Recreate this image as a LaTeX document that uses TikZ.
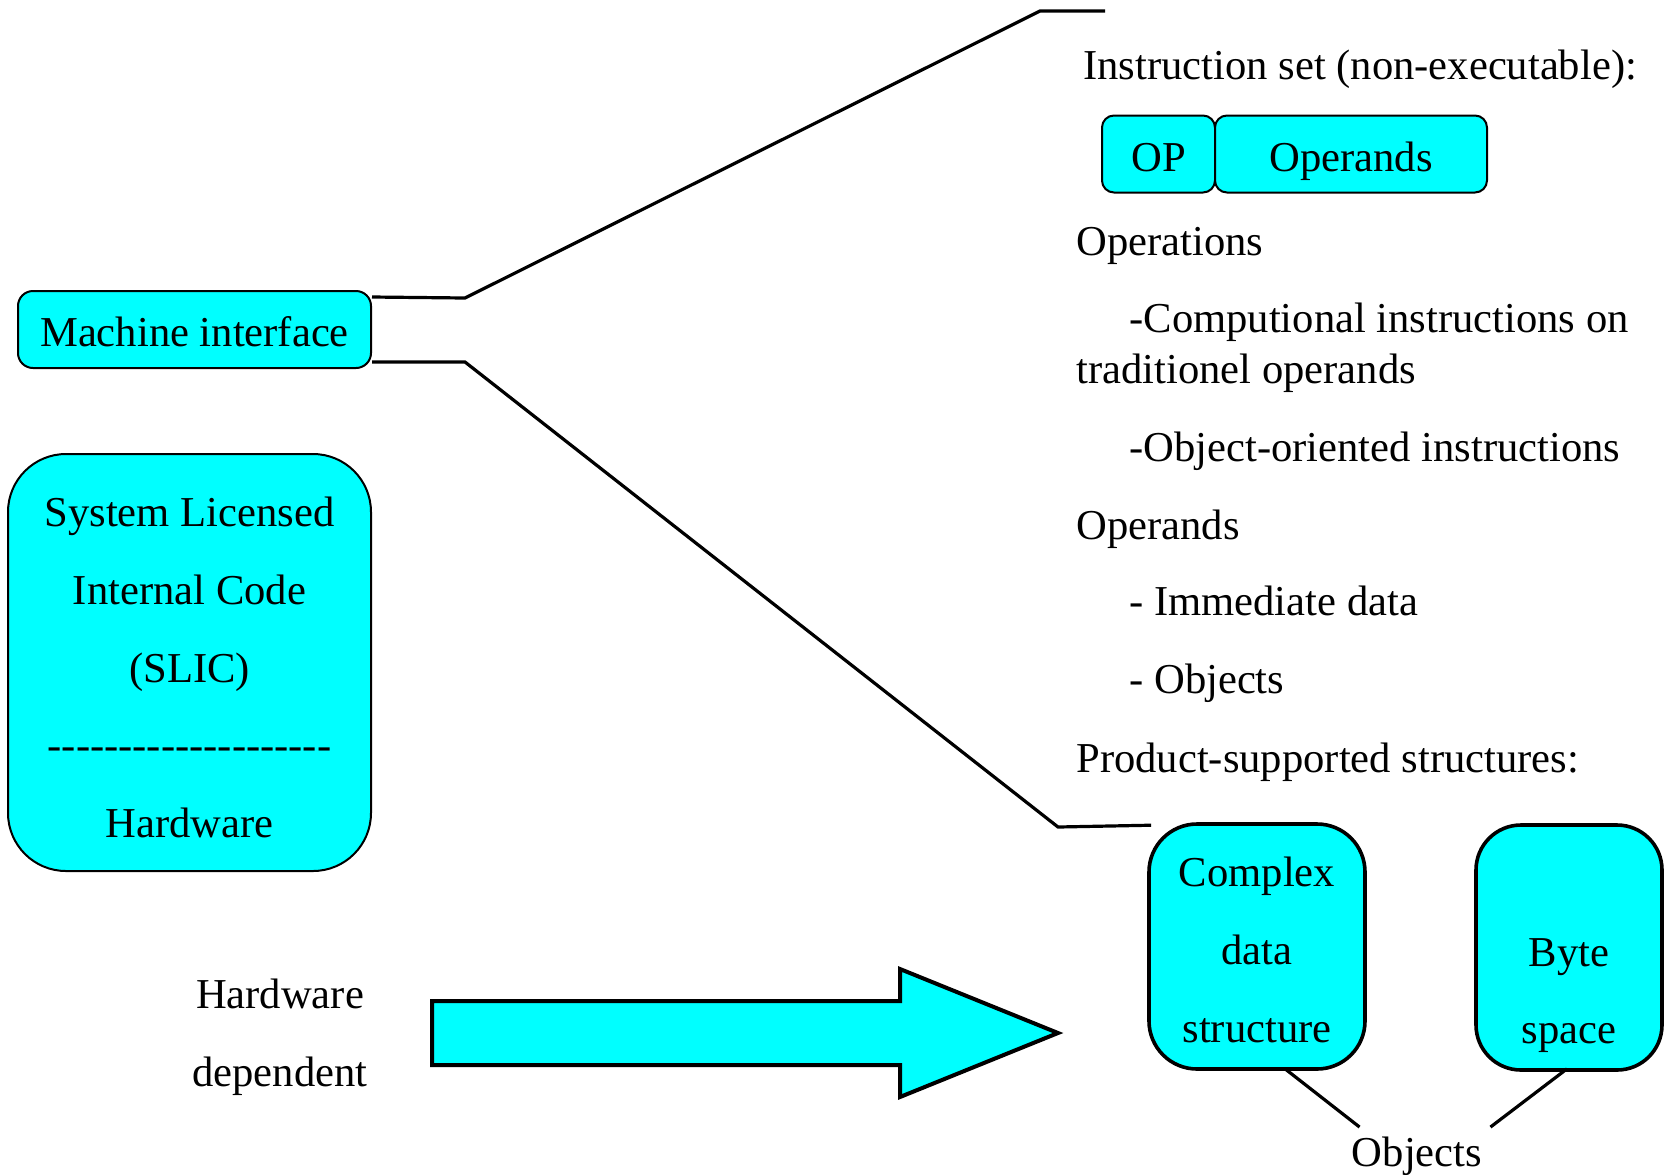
\documentclass[tikz,border=0pt]{standalone}
\usepackage{fontspec}
\setmainfont{Liberation Serif}
\usetikzlibrary{calc}
\definecolor{boxcyan}{RGB}{0,255,255}
% a row of plain hyphens, kept apart so they do not merge into dashes
\newcommand\hyph{\mbox{-}}
\newcommand\dashrow{\hyph\hyph\hyph\hyph\hyph\hyph\hyph\hyph\hyph\hyph\hyph\hyph\hyph\hyph\hyph\hyph\hyph\hyph\hyph\hyph}
% first-line strut with some extra height, to lower a text block inside its box
\newcommand\firststrut[1]{\rule{0pt}{\dimexpr27.23pt+#1\relax}}
\begin{document}
\begin{tikzpicture}[x=0.5pt,y=-0.5pt,
  every node/.style={font=\fontsize{21.3}{38.9}\selectfont, inner sep=0pt},
  cbox/.style={draw, fill=boxcyan, align=center},
  thinbox/.style={cbox, line width=1pt, text height=17pt, text depth=0pt},
  bigbox/.style={cbox, line width=1pt},
  thickbox/.style={cbox, line width=1.8pt},
  conn/.style={line width=1.6pt},
  txt/.style={anchor=base west}]
\useasboundingbox (0,0) rectangle (1665,1174);

% left side
\node[thinbox, rounded corners=7.5pt, minimum width=176.5pt, minimum height=38.5pt]
  (mi) at (194.5,329.5) {Machine interface};
\node[bigbox, rounded corners=29pt, minimum width=181.5pt, minimum height=208.5pt]
  (slic) at (189.5,662.5)
  {\firststrut{4pt}System Licensed\\\strut Internal Code\\\strut (SLIC)\\\strut\dashrow\\\strut Hardware};
\node[align=center] (hw) at (280,1032) {\strut Hardware\\\strut dependent};

% big arrow
\draw[fill=boxcyan, line width=2pt] (432,1001) -- (900,1001) -- (900,969) -- (1058,1033)
  -- (900,1097) -- (900,1065) -- (432,1065) -- cycle;

% instruction format
\node[thinbox, rounded corners=6pt, minimum width=56.5pt, minimum height=38.5pt]
  (op) at (1158.5,154) {OP};
\node[thinbox, rounded corners=6pt, minimum width=136pt, minimum height=38.5pt]
  (opd) at (1351,154) {Operands};

% right column text
\node[txt] (iset) at (1083,79) {Instruction set (non-executable):};
\node[txt] (opn) at (1076,255) {Operations};
\node[txt] (comp) at (1129,332) {-Computional instructions on};
\node[txt] (trad) at (1076,383) {traditionel operands};
\node[txt] (oo) at (1129,461) {-Object-oriented instructions};
\node[txt] (opnds) at (1076,539) {Operands};
\node[txt] (imm) at (1129,615) {- Immediate data};
\node[txt] (objs) at (1129,693) {- Objects};
\node[txt] (prod) at (1076,772) {Product-supported structures:};

% structures
\node[thickbox, rounded corners=24pt, minimum width=108pt, minimum height=122.5pt]
  (cds) at (1257,946.5) {\firststrut{2.5pt}Complex\\\strut data\\\strut structure};
\node[thickbox, rounded corners=22.5pt, minimum width=93pt, minimum height=122.5pt]
  (byte) at (1569,947.5) {\firststrut{3pt}\\\strut Byte\\\strut space};
\node[anchor=base] (obj) at (1417,1166) {Objects};

% bracket lines from the machine interface
\coordinate (t1) at (465,298);
\coordinate (t2) at (1040,11);
\coordinate (t3) at (1105,11);
\coordinate (b1) at (465,362);
\coordinate (b2) at (1058,827);
\draw[conn] ($(mi.north east)+(0,7)$) -- (t1) -- (t2) -- (t3);
\draw[conn] ($(mi.south east)+(0,-7)$) -- (b1) -- (b2) -- ($(cds.north west)+(4,3)$);

% object lines
\draw[conn] ($(cds.south)+(28,-2)$) -- ($(obj.north west)+(8,-9)$);
\draw[conn] ($(byte.south)+(-2,-3)$) -- ($(obj.north east)+(8,-9)$);
\end{tikzpicture}
\end{document}
